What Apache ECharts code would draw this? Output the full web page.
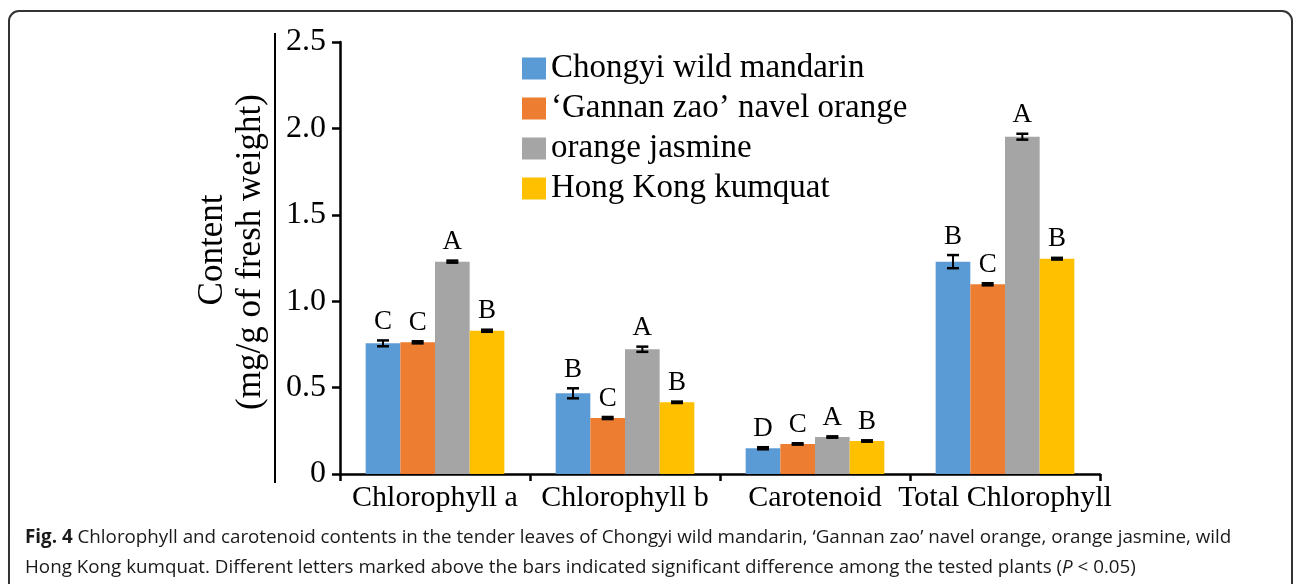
<!DOCTYPE html>
<html>
<head>
<meta charset="utf-8">
<script src="https://cdn.jsdelivr.net/npm/echarts@6/dist/echarts.min.js"></script>
<style>
  html, body { margin: 0; padding: 0; background: #fff; }
  #chart { width: 1295px; height: 584px; }
</style>
</head>
<body>
<div id="chart"></div>
<script>
// Pigment groups on the x axis
const categories = ['Chlorophyll a', 'Chlorophyll b', 'Carotenoid', 'Total Chlorophyll'];

// Plant names (legend order)
const plantNames = ['Chongyi wild mandarin', '‘Gannan zao’ navel orange', 'orange jasmine', 'Hong Kong kumquat'];

// Mean content (mg/g of fresh weight), one value per pigment group
const mandarinMean = [0.756, 0.467, 0.149, 1.229];
const navelMean    = [0.762, 0.324, 0.174, 1.098];
const jasmineMean  = [1.229, 0.722, 0.214, 1.952];
const kumquatMean  = [0.829, 0.415, 0.191, 1.246];

// Standard errors
const mandarinErr = [0.017, 0.029, 0.006, 0.038];
const navelErr    = [0.006, 0.006, 0.004, 0.006];
const jasmineErr  = [0.006, 0.015, 0.004, 0.017];
const kumquatErr  = [0.006, 0.004, 0.004, 0.005];

// Significance letters
const mandarinLetters = ['C', 'B', 'D', 'B'];
const navelLetters    = ['C', 'C', 'C', 'C'];
const jasmineLetters  = ['A', 'A', 'A', 'A'];
const kumquatLetters  = ['B', 'B', 'B', 'B'];

// Y axis tick labels
const yTickLabels = ['0', '0.5', '1.0', '1.5', '2.0', '2.5'];

const means = [mandarinMean, navelMean, jasmineMean, kumquatMean];
const errs = [mandarinErr, navelErr, jasmineErr, kumquatErr];
const letters = [mandarinLetters, navelLetters, jasmineLetters, kumquatLetters];
const palette = ['#5B9BD5', '#ED7D31', '#A5A5A5', '#FFC000'];

const SERIF = '"Liberation Serif", "Times New Roman", serif';
const SANS = '"Open Sans", sans-serif';
const CATEGORY_GAP = 0.27;

const barSeries = plantNames.map((name, i) => ({
  name: name,
  type: 'bar',
  data: means[i],
  barGap: 0,
  barCategoryGap: (CATEGORY_GAP * 100) + '%',
  itemStyle: { color: palette[i] },
  z: 2
}));

// Error bars and letters, placed on each bar through the axis scales
const errorSeries = plantNames.map((name, i) => ({
  name: name + ' SE',
  type: 'custom',
  z: 5,
  data: categories.map((c, k) => [k, means[i][k], errs[i][k], letters[i][k]]),
  encode: { x: 0, y: 1 },
  renderItem: function (params, api) {
    const k = api.value(0);
    const m = api.value(1);
    const e = api.value(2);
    const band = api.size([1, 0])[0];
    const bw = band * (1 - CATEGORY_GAP) / plantNames.length;
    const cx = api.coord([k, m])[0] + (i - (plantNames.length - 1) / 2) * bw;
    const yTop = api.coord([k, m + e])[1];
    const yBot = api.coord([k, m - e])[1];
    const half = 6;
    const ls = { stroke: '#000', lineWidth: 2.5 };
    return {
      type: 'group',
      children: [
        { type: 'line', shape: { x1: cx, y1: yTop, x2: cx, y2: yBot }, style: { stroke: '#000', lineWidth: 2 } },
        { type: 'line', shape: { x1: cx - half, y1: yTop, x2: cx + half, y2: yTop }, style: ls },
        { type: 'line', shape: { x1: cx - half, y1: yBot, x2: cx + half, y2: yBot }, style: ls },
        {
          type: 'text',
          style: {
            text: letters[i][k],
            x: cx, y: yTop - 5,
            align: 'center', verticalAlign: 'bottom',
            font: '27px ' + SERIF,
            fill: '#000'
          }
        }
      ]
    };
  }
}));

const chart = echarts.init(document.getElementById('chart'), null, { renderer: 'canvas' });

chart.setOption({
  animation: false,
  backgroundColor: '#fff',
  color: palette,
  grid: { left: 340, right: 195, top: 42, bottom: 110, containLabel: false },
  legend: {
    data: plantNames,
    orient: 'vertical',
    left: 517,
    top: 47,
    itemWidth: 24,
    itemHeight: 22,
    itemGap: 7,
    icon: 'rect',
    selectedMode: false,
    textStyle: { fontFamily: SERIF, fontSize: 33, color: '#000', lineHeight: 33 }
  },
  xAxis: {
    type: 'category',
    data: categories,
    boundaryGap: true,
    axisLine: { lineStyle: { color: '#000', width: 2.5 } },
    axisTick: { show: true, interval: 0, length: 7, lineStyle: { color: '#000', width: 2.5 } },
    axisLabel: { interval: 0, margin: 9, fontFamily: SERIF, fontSize: 30, color: '#000' },
    splitLine: { show: false }
  },
  yAxis: {
    type: 'value',
    min: 0,
    max: 2.5,
    interval: 0.5,
    axisLine: { show: true, lineStyle: { color: '#000', width: 2.5 } },
    axisTick: { show: true, length: 8, lineStyle: { color: '#000', width: 2.5 } },
    axisLabel: {
      margin: 14,
      fontFamily: SERIF,
      fontSize: 32,
      color: '#000',
      formatter: v => yTickLabels[Math.round(v / 0.5)]
    },
    splitLine: { show: false }
  },
  series: barSeries.concat(errorSeries),
  graphic: [
    // figure frame
    {
      type: 'rect',
      shape: { x: 9, y: 11, width: 1283, height: 640, r: 10 },
      style: { fill: 'none', stroke: '#333', lineWidth: 2 },
      silent: true
    },
    // axis title, two rotated lines
    {
      type: 'text',
      x: 213, y: 250,
      rotation: Math.PI / 2,
      style: { text: 'Content', font: '35px ' + SERIF, fill: '#000', align: 'center', verticalAlign: 'middle' }
    },
    {
      type: 'text',
      x: 251, y: 252,
      rotation: Math.PI / 2,
      style: { text: '(mg/g of fresh weight)', font: '35px ' + SERIF, fill: '#000', align: 'center', verticalAlign: 'middle' }
    },
    // rule between the title and the tick labels
    {
      type: 'line',
      shape: { x1: 275, y1: 33, x2: 275, y2: 483 },
      style: { stroke: '#000', lineWidth: 2 }
    },
    // caption
    {
      type: 'text',
      x: 25, y: 538,
      style: {
        text: '{b|Fig. 4} Chlorophyll and carotenoid contents in the tender leaves of Chongyi wild mandarin, ‘Gannan zao’ navel orange, orange jasmine, wild',
        font: '18.8px ' + SANS,
        fill: '#1a1a1a',
        verticalAlign: 'middle',
        rich: { b: { fontWeight: 'bold', fontSize: 18.8, fontFamily: SANS, fill: '#1a1a1a' } }
      }
    },
    {
      type: 'text',
      x: 25, y: 568,
      style: {
        text: 'Hong Kong kumquat. Different letters marked above the bars indicated significant difference among the tested plants ({i|P} < 0.05)',
        font: '18.8px ' + SANS,
        fill: '#1a1a1a',
        verticalAlign: 'middle',
        rich: { i: { fontStyle: 'italic', fontSize: 18.8, fontFamily: SANS, fill: '#1a1a1a' } }
      }
    }
  ]
});
</script>
</body>
</html>
